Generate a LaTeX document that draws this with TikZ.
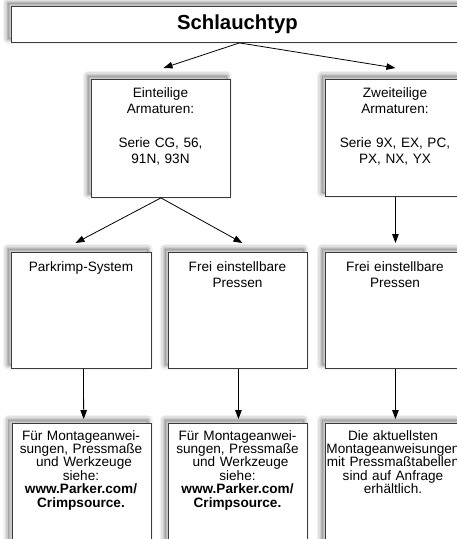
\documentclass[tikz,border=0pt]{standalone}
\usepackage{fontspec}
\setmainfont{Liberation Sans}
\usetikzlibrary{arrows.meta}
\definecolor{boxline}{HTML}{3A3A3A}
\tikzset{
  shadowlayer/.style={preaction={draw=black, draw opacity=#1, fill=none, line join=round,
     transform canvas={xshift=-3.5pt, yshift=3.5pt}}},
  box/.style={draw=boxline, line width=0.9pt, fill=white, rectangle, inner sep=0pt, anchor=north west,
    preaction={fill=black, fill opacity=0.10, draw=black, draw opacity=0.05, line width=10pt, line join=round,
      transform canvas={xshift=-3.5pt, yshift=3.5pt}},
    preaction={draw=black, draw opacity=0.07, line width=7pt, line join=round,
      transform canvas={xshift=-3.5pt, yshift=3.5pt}},
    preaction={draw=black, draw opacity=0.09, line width=4pt, line join=round,
      transform canvas={xshift=-3.5pt, yshift=3.5pt}},
    preaction={draw=black, draw opacity=0.10, line width=1.5pt, line join=round,
      transform canvas={xshift=-3.5pt, yshift=3.5pt}}},
  boxtext/.style={anchor=base, text width=160pt, align=center, inner sep=0pt,
    font=\fontsize{13.6}{16.7}\selectfont},
  smalltext/.style={anchor=base, text width=160pt, align=center, inner sep=0pt,
    font=\fontsize{13.6}{13.4}\selectfont},
  conn/.style={draw=black, line width=0.8pt, -{Triangle[length=9pt,width=6.5pt]}}
}
\begin{document}
\begin{tikzpicture}[x=1pt,y=-1pt]
\useasboundingbox (0,0) rectangle (457,539);
\clip (0,0) rectangle (457,539);
% top
\node[box, minimum width=452pt, minimum height=36pt, font=\fontsize{20.3}{24}\selectfont\bfseries] (top) at (11,6) {Schlauchtyp};
% row 1
\node[box, minimum width=139pt, minimum height=118pt] (E1) at (91,79) {};
\node[box, minimum width=140pt, minimum height=117pt] (Z) at (325,79) {};
% row 2
\node[box, minimum width=140pt, minimum height=116pt] (B1) at (11,252) {};
\node[box, minimum width=139pt, minimum height=116pt] (B2) at (168,252) {};
\node[box, minimum width=140pt, minimum height=116pt] (B3) at (325,252) {};
% row 3
\node[box, minimum width=139.5pt, minimum height=140pt] (C1) at (11.5,423) {};
\node[box, minimum width=139pt, minimum height=140pt] (C2) at (168,423) {};
\node[box, minimum width=140pt, minimum height=140pt] (C3) at (325,423) {};
% texts
\node[boxtext] (tE1) at (160.5,97) {Einteilige\\Armaturen:\\\mbox{}\\Serie CG, 56,\\91N, 93N};
\node[boxtext] (tZ) at (395,97) {Zweiteilige\\Armaturen:\\\mbox{}\\Serie 9X, EX, PC,\\PX, NX, YX};
\node[boxtext] (tB1) at (81,271) {Parkrimp-System};
\node[boxtext] (tB2) at (237.5,271) {Frei einstellbare\\Pressen};
\node[boxtext] (tB3) at (395,271) {Frei einstellbare\\Pressen};
\node[smalltext] (tC1) at (81,440) {Für Montageanwei-\\sungen, Pressmaße\\\hspace*{6pt}und Werkzeuge\\siehe:\\\textbf{www.Parker.com/}\\\textbf{Crimpsource.}};
\node[smalltext] (tC2) at (237.5,440) {Für Montageanwei-\\sungen, Pressmaße\\\hspace*{6pt}und Werkzeuge\\siehe:\\\textbf{www.Parker.com/}\\\textbf{Crimpsource.}};
\node[smalltext] (tC3) at (393,440) {Die aktuellsten\\Montageanweisungen\\mit Pressmaßtabellen\\sind auf Anfrage\\erhältlich.};
% connectors
\draw[conn] ([xshift=2pt]top.south) -- ([xshift=2.5pt,yshift=11pt]E1.north);
\draw[conn] ([xshift=2pt]top.south) -- ([yshift=11pt]Z.north);
\draw[conn] (E1.south) -- ([xshift=-6pt,yshift=9pt]B1.north);
\draw[conn] (E1.south) -- ([xshift=4.5pt,yshift=9pt]B2.north);
\draw[conn] (Z.south) -- ([yshift=9pt]B3.north);
\draw[conn] ([xshift=2pt]B1.south) -- ([xshift=2pt,yshift=4pt]C1.north);
\draw[conn] ([xshift=0.5pt]B2.south) -- ([xshift=0.5pt,yshift=4pt]C2.north);
\draw[conn] (B3.south) -- ([yshift=4pt]C3.north);
\end{tikzpicture}
\end{document}
